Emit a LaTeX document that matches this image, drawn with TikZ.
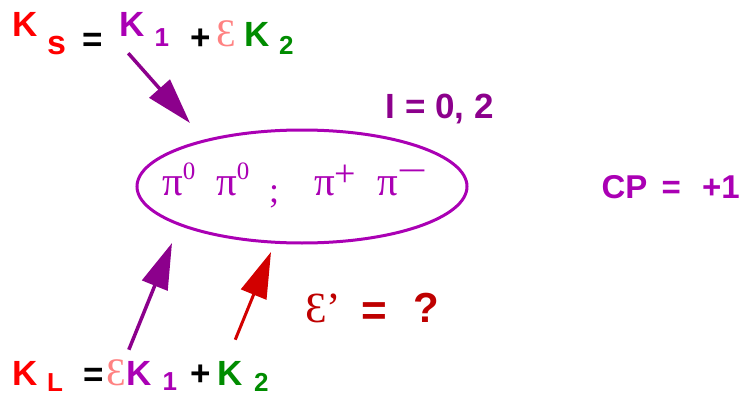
\documentclass[tikz,border=0pt]{standalone}
\usepackage{fontspec}
\setmainfont{Liberation Sans}
\newfontfamily\grserif{Liberation Serif}
\usepackage{graphicx}
\usetikzlibrary{arrows.meta,shapes.geometric}
\definecolor{kred}{RGB}{255,0,0}
\definecolor{konepurple}{RGB}{170,0,180}
\definecolor{epspink}{RGB}{255,130,130}
\definecolor{ktwogreen}{RGB}{0,140,0}
\definecolor{arrowpurple}{RGB}{140,0,140}
\definecolor{arrowred}{RGB}{210,0,0}
\definecolor{epsred}{RGB}{190,0,0}
\definecolor{pipurple}{RGB}{170,0,180}
\newcommand\openeps{Ɛ}
\newcommand\pisup[3]{\raisebox{#1}{\fontsize{#2}{#2}\selectfont #3}}
\tikzset{
  glyph/.style={inner sep=0pt, anchor=base west},
  bigsf/.style={glyph, font=\fontsize{35}{42}\selectfont\bfseries},
  subsf/.style={glyph, font=\fontsize{26}{31}\selectfont\bfseries},
  bigeps/.style={glyph, font=\fontsize{39}{46}\selectfont\grserif},
  pion/.style={glyph, text=pipurple, font=\fontsize{41}{48}\selectfont\grserif},
  decayring/.style={ellipse, draw=pipurple, line width=3pt, minimum width=330pt, minimum height=113pt, inner sep=0pt},
  fatarrow/.style={line width=3.5pt, -{Triangle[length=46pt,width=27pt]}}
}

\begin{document}
\begin{tikzpicture}[x=1pt,y=-1pt]
  \useasboundingbox (0,0) rectangle (742,396);

  % K_S line
  \node[bigsf, text=kred] (ksK) at (12.4,37) {K};
  \node[glyph, text=kred, font=\fontsize{34}{40}\selectfont\bfseries] (kss) at (47,55) {s};
  \node[bigsf] (kseq) at (82.6,51.5) {=};
  \node[bigsf, text=konepurple] (ksk1) at (119.4,37) {K};
  \node[subsf, text=konepurple] (ks1) at (154.4,47) {1};
  \node[bigsf] (ksplus) at (190.6,50) {+};
  \node[bigeps, text=epspink] (kseps) at (216,47) {\openeps};
  \node[bigsf, text=ktwogreen] (ksk2) at (244.4,47) {K};
  \node[subsf, text=ktwogreen] (ks2) at (279,55) {2};

  % K_L line
  \node[bigsf, text=kred] (klK) at (12.4,385) {K};
  \node[subsf, text=kred] (klL) at (47,391) {L};
  \node[bigsf] (kleq) at (83.6,386.5) {=};
  \node[bigeps, text=epspink] (kleps) at (106.5,385) {\openeps};
  \node[bigsf, text=konepurple] (klk1) at (126,385) {K};
  \node[subsf, text=konepurple] (kl1) at (162.4,390) {1};
  \node[bigsf] (klplus) at (190.6,385.5) {+};
  \node[bigsf, text=ktwogreen] (klk2) at (217.4,385) {K};
  \node[subsf, text=ktwogreen] (kl2) at (254,391) {2};

  % final states
  \node[decayring] (decay) at (302,186.5) {};
  \node[pion] (pi0a) at (162,195) {π\pisup{16pt}{25}{0}};
  \node[pion] (pi0b) at (216,195) {π\pisup{16pt}{25}{0}};
  \node[glyph, text=pipurple, font=\fontsize{36}{40}\selectfont\grserif] (semi) at (269,202) {;};
  \node[pion] (pip) at (314,195) {π\pisup{8.5pt}{38}{+}};
  \node[pion] (pim) at (377,195) {π\pisup{11.5pt}{38}{\scalebox{1.4}[1]{−}}};

  \node[bigsf, text=arrowpurple] (iso) at (385.5,118) {I = 0, 2};
  \node[glyph, text=konepurple, font=\fontsize{33}{40}\selectfont\bfseries] (cp) at (601.4,198) {CP\hspace{14.2pt}=\hspace{21.2pt}+1};

  \node[glyph, text=epsred, font=\fontsize{43}{50}\selectfont\grserif] (epsp) at (305,322) {\openeps’};
  \node[glyph, text=epsred, font=\fontsize{44}{50}\selectfont\bfseries] (epseq) at (361,325) {=};
  \node[glyph, text=epsred, font=\fontsize{42}{50}\selectfont\bfseries] (epsq) at (413,322) {?};

  % arrows into the ellipse
  \coordinate (ksTip) at (190,123);
  \coordinate (klTipA) at (172,243);
  \coordinate (klTipB) at (271,252);
  \draw[fatarrow, arrowpurple] ([xshift=-4pt,yshift=-16pt]ksk1.south) -- (ksTip);
  \draw[fatarrow, arrowpurple] ([xshift=-10pt,yshift=11pt]klk1.north) -- (klTipA);
  \draw[fatarrow, arrowred, line width=3pt] ([xshift=5pt,yshift=21pt]klk2.north) -- (klTipB);
\end{tikzpicture}
\end{document}
